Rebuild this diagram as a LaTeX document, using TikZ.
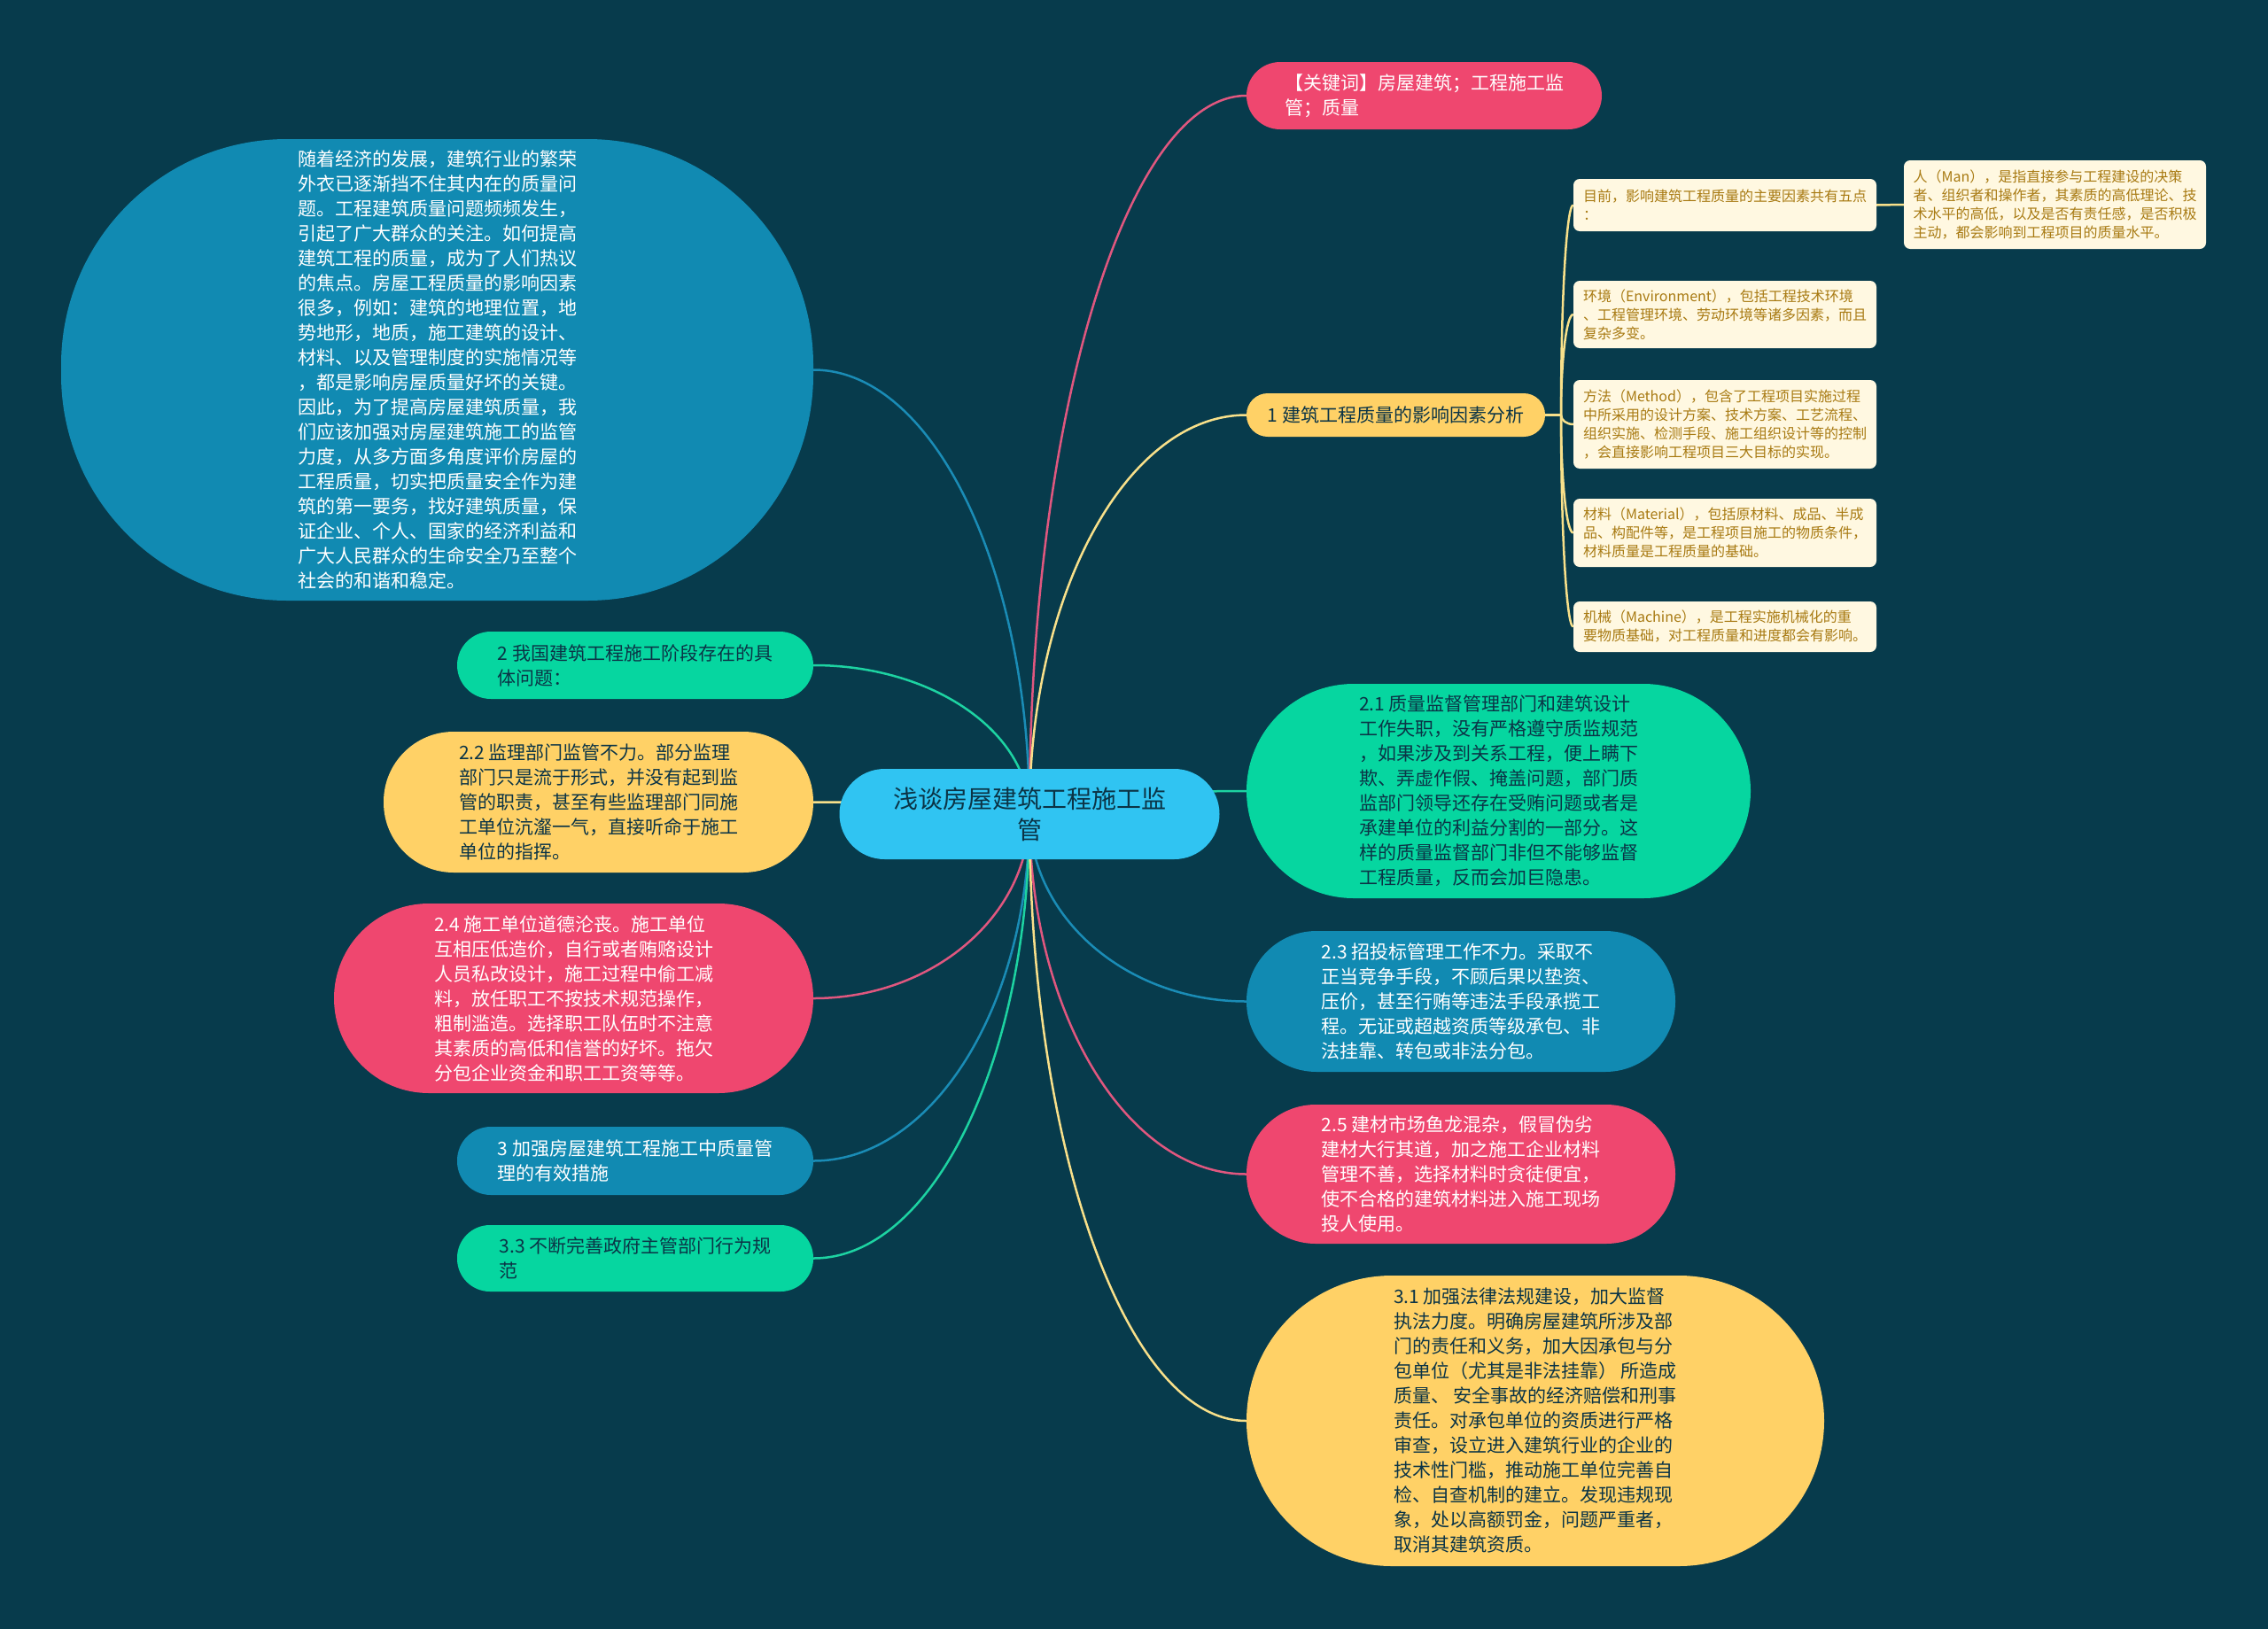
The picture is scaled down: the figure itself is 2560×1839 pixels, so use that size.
\documentclass[tikz,border=0pt]{standalone}
\usepackage{fontspec}
\setmainfont{Noto Sans CJK SC}
\usetikzlibrary{calc}
\definecolor{bgc}{HTML}{073B4C}
\definecolor{cpink}{HTML}{EF476F}
\definecolor{cyel}{HTML}{FFD166}
\definecolor{cgreen}{HTML}{06D6A0}
\definecolor{cblue}{HTML}{118AB2}
\definecolor{croot}{HTML}{30C4F2}
\definecolor{cdark}{HTML}{0B3446}
\definecolor{ccream}{HTML}{FFF8E1}
\definecolor{cgold}{HTML}{A87A12}
\definecolor{lpink}{HTML}{E0577F}
\definecolor{lyel}{HTML}{F8E08A}
\definecolor{lgreen}{HTML}{1DD3A2}
\definecolor{lblue}{HTML}{1A8CB6}
\pgfdeclarelayer{bg}
\pgfsetlayers{bg,main}
\newcommand\mmlink[3]{\draw[#1] (#2) .. controls ($(#2)!0.552!(#2 |- #3)$) and ($(#3)!0.552!(#2 |- #3)$) .. (#3);}
\tikzset{
  mm/.style={rectangle, inner sep=0pt, align=left, font=\fontsize{21}{28}\selectfont},
  sz/.style n args={3}{minimum width=#1pt, minimum height=#2pt, rounded corners=#3pt},
  pinkbox/.style={mm, fill=cpink, text=white},
  yelbox/.style={mm, fill=cyel, text=cdark},
  greenbox/.style={mm, fill=cgreen, text=cdark},
  bluebox/.style={mm, fill=cblue, text=white},
  rootbox/.style={mm, fill=croot, text=cdark, align=center, font=\fontsize{28}{35}\selectfont},
  cream/.style={rectangle, inner sep=0pt, align=left, fill=ccream, text=cgold, rounded corners=7pt, minimum width=342pt, font=\fontsize{16}{21}\selectfont},
  link/.style={line width=2.5pt},
}
\begin{document}
\begin{tikzpicture}[x=1pt,y=-1pt]
\begin{pgfonlayer}{bg}
  \fill[bgc] (0,0) rectangle (2560,1839);
\end{pgfonlayer}

% root
\node[rootbox, sz={429}{102}{51}] (root) at (1162,919) {浅谈房屋建筑工程施工监\\管};

% left side
\node[bluebox, sz={849}{521}{255}] (intro) at (493.5,417.5) {随着经济的发展，建筑行业的繁荣\\外衣已逐渐挡不住其内在的质量问\\题。工程建筑质量问题频频发生，\\引起了广大群众的关注。如何提高\\建筑工程的质量，成为了人们热议\\的焦点。房屋工程质量的影响因素\\很多，例如：建筑的地理位置，地\\势地形，地质，施工建筑的设计、\\材料、以及管理制度的实施情况等\\，都是影响房屋质量好坏的关键。\\因此，为了提高房屋建筑质量，我\\们应该加强对房屋建筑施工的监管\\力度，从多方面多角度评价房屋的\\工程质量，切实把质量安全作为建\\筑的第一要务，找好建筑质量，保\\证企业、个人、国家的经济利益和\\广大人民群众的生命安全乃至整个\\社会的和谐和稳定。};
\node[greenbox, sz={402}{76}{38}] (two) at (717,751) {2 我国建筑工程施工阶段存在的具\\体问题：};
\node[yelbox, sz={485}{159}{79}] (t22) at (675.5,905.5) {2.2 监理部门监管不力。部分监理\\部门只是流于形式，并没有起到监\\管的职责，甚至有些监理部门同施\\工单位沆瀣一气，直接听命于施工\\单位的指挥。};
\node[pinkbox, sz={541}{214}{107}] (t24) at (647.5,1127) {2.4 施工单位道德沦丧。施工单位\\互相压低造价，自行或者贿赂设计\\人员私改设计，施工过程中偷工减\\料，放任职工不按技术规范操作，\\粗制滥造。选择职工队伍时不注意\\其素质的高低和信誉的好坏。拖欠\\分包企业资金和职工工资等等。};
\node[bluebox, sz={402}{77}{38}] (three) at (717,1310.5) {3 加强房屋建筑工程施工中质量管\\理的有效措施};
\node[greenbox, sz={402}{75}{37}] (t33) at (717,1420.5) {3.3 不断完善政府主管部门行为规\\范};

% right side
\node[pinkbox, sz={401}{76}{38}] (kw) at (1607.5,108) {【关键词】房屋建筑；工程施工监\\管；质量};
\node[yelbox, sz={337}{49}{24}] (one) at (1575.5,468.5) {1 建筑工程质量的影响因素分析};
\node[greenbox, sz={569}{242}{121}] (t21) at (1691.5,893) {2.1 质量监督管理部门和建筑设计\\工作失职，没有严格遵守质监规范\\，如果涉及到关系工程，便上瞒下\\欺、弄虚作假、掩盖问题，部门质\\监部门领导还存在受贿问题或者是\\承建单位的利益分割的一部分。这\\样的质量监督部门非但不能够监督\\工程质量，反而会加巨隐患。};
\node[bluebox, sz={484}{159}{79}] (t23) at (1649,1130.5) {2.3 招投标管理工作不力。采取不\\正当竞争手段，不顾后果以垫资、\\压价，甚至行贿等违法手段承揽工\\程。无证或超越资质等级承包、非\\法挂靠、转包或非法分包。};
\node[pinkbox, sz={484}{157}{78}] (t25) at (1649,1325.5) {2.5 建材市场鱼龙混杂，假冒伪劣\\建材大行其道，加之施工企业材料\\管理不善，选择材料时贪徒便宜，\\使不合格的建筑材料进入施工现场\\投人使用。};
\node[yelbox, sz={652}{328}{164}] (t31) at (1733,1604) {3.1 加强法律法规建设，加大监督\\执法力度。明确房屋建筑所涉及部\\门的责任和义务，加大因承包与分\\包单位（尤其是非法挂靠） 所造成\\质量、 安全事故的经济赔偿和刑事\\责任。对承包单位的资质进行严格\\审查，设立进入建筑行业的企业的\\技术性门槛，推动施工单位完善自\\检、自查机制的建立。发现违规现\\象，处以高额罚金，问题严重者，\\取消其建筑资质。};

% cream children of "1"
\node[cream, minimum height=59pt] (mq) at (1947,231.5) {目前，影响建筑工程质量的主要因素共有五点\\：};
\node[cream, minimum width=341pt, minimum height=100pt] (man) at (2319.5,231) {人（Man），是指直接参与工程建设的决策\\者、组织者和操作者，其素质的高低理论、技\\术水平的高低，以及是否有责任感，是否积极\\主动，都会影响到工程项目的质量水平。};
\node[cream, minimum height=76pt] (env) at (1947,355) {环境（Environment），包括工程技术环境\\、工程管理环境、劳动环境等诸多因素，而且\\复杂多变。};
\node[cream, minimum height=100pt] (meth) at (1947,479) {方法（Method），包含了工程项目实施过程\\中所采用的设计方案、技术方案、工艺流程、\\组织实施、检测手段、施工组织设计等的控制\\，会直接影响工程项目三大目标的实现。};
\node[cream, minimum height=77pt] (mat) at (1947,601.5) {材料（Material），包括原材料、成品、半成\\品、构配件等，是工程项目施工的物质条件，\\材料质量是工程质量的基础。};
\node[cream, minimum height=57pt] (mach) at (1947,707.5) {机械（Machine），是工程实施机械化的重\\要物质基础，对工程质量和进度都会有影响。};

\coordinate (sp) at (1762,468.5);

\begin{pgfonlayer}{bg}
  \mmlink{link, lblue}{root.center}{intro.east}
  \mmlink{link, lgreen}{root.center}{two.east}
  \mmlink{link, lyel}{root.center}{t22.east}
  \mmlink{link, lpink}{root.center}{t24.east}
  \mmlink{link, lblue}{root.center}{three.east}
  \mmlink{link, lgreen}{root.center}{t33.east}
  \mmlink{link, lpink}{root.center}{kw.west}
  \mmlink{link, lyel}{root.center}{one.west}
  \mmlink{link, lgreen}{root.center}{t21.west}
  \mmlink{link, lblue}{root.center}{t23.west}
  \mmlink{link, lpink}{root.center}{t25.west}
  \mmlink{link, lyel}{root.center}{t31.west}
  \draw[link, lyel] (one.east) -- (sp);
  \mmlink{link, lyel}{sp}{mq.west}
  \mmlink{link, lyel}{sp}{env.west}
  \mmlink{link, lyel}{sp}{meth.west}
  \mmlink{link, lyel}{sp}{mat.west}
  \mmlink{link, lyel}{sp}{mach.west}
  \draw[link, lyel] (mq.east) -- (man.west);
\end{pgfonlayer}
\end{tikzpicture}
\end{document}
